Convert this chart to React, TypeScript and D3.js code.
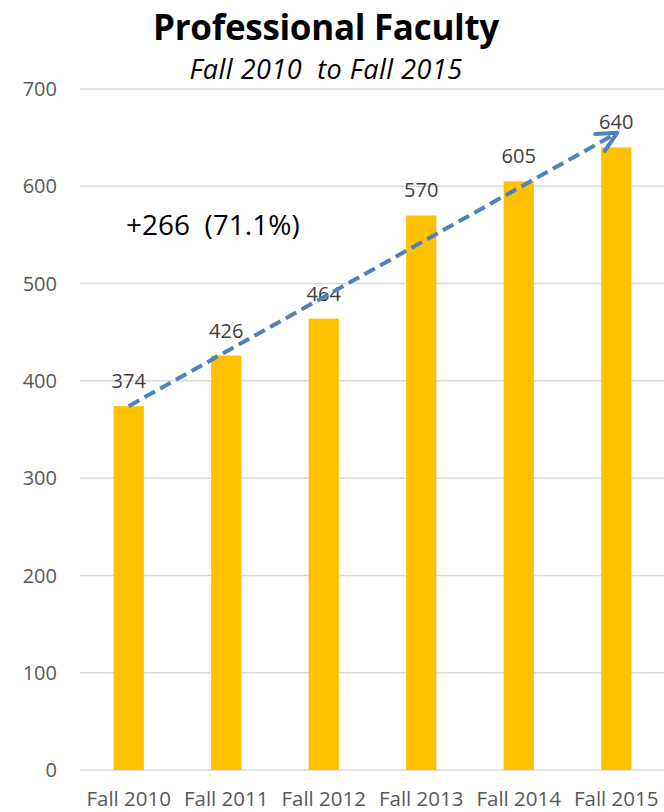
import React from "react";
import * as d3 from "d3";

const categories = ["Fall 2010", "Fall 2011", "Fall 2012", "Fall 2013", "Fall 2014", "Fall 2015"];
const values = [374, 426, 464, 570, 605, 640];
const yTicks = [0, 100, 200, 300, 400, 500, 600, 700];
const arrowFrom = { cat: "Fall 2010", value: 374 };
const arrowTo = { cat: "Fall 2015", value: 655 };
const titleText = "Professional Faculty";
const subtitleText = "Fall 2010  to Fall 2015";
const changeText = "+266  (71.1%)";

export default function App() {
  const W = 664, H = 812;
  const left = 80, right = 665, top = 89, bottom = 770;
  const x = d3.scaleBand<string>().domain(categories).range([left, right]).paddingInner(0.69).paddingOuter(0.345);
  const y = d3.scaleLinear().domain([0, 700]).range([bottom, top]);
  const font = "'Open Sans', sans-serif";
  const cx = (c: string) => (x(c) as number) + x.bandwidth() / 2;
  const x1 = cx(arrowFrom.cat), y1 = y(arrowFrom.value);
  const x2 = cx(arrowTo.cat) + 1, y2 = y(arrowTo.value);
  const ang = Math.atan2(y2 - y1, x2 - x1);
  const hl = 22, ha = 0.46;
  const h1 = [x2 - hl * Math.cos(ang - ha), y2 - hl * Math.sin(ang - ha)];
  const h2 = [x2 - hl * Math.cos(ang + ha), y2 - hl * Math.sin(ang + ha)];
  return (
    <svg width={W} height={H} style={{ position: "absolute", left: 0, top: 0, background: "#fff" }}>
      <text x={326} y={40} textAnchor="middle" fontFamily={font} fontWeight={700} fontSize={35} letterSpacing={-0.3} fill="#000">{titleText}</text>
      <text x={326} y={79} textAnchor="middle" fontFamily={font} fontStyle="italic" fontSize={27} letterSpacing={0.5} fill="#000" style={{ whiteSpace: "pre" }}>{subtitleText}</text>
      {yTicks.map((t) => (
        <g key={t}>
          <line x1={left} x2={right} y1={y(t)} y2={y(t)} stroke="#d9d9d9" strokeWidth={1.5} />
          <text x={57} y={y(t)} dy="0.36em" textAnchor="end" fontFamily={font} fontSize={20} fill="#595959">{t}</text>
        </g>
      ))}
      {categories.map((c, i) => (
        <g key={c}>
          <rect x={x(c)} y={y(values[i])} width={x.bandwidth()} height={bottom - y(values[i])} fill="#FFC000" />
          <text x={cx(c)} y={y(values[i]) - 18} textAnchor="middle" fontFamily={font} fontSize={20} fill="#404040">{values[i]}</text>
          <text x={cx(c)} y={806} textAnchor="middle" fontFamily={font} fontSize={20.5} fill="#595959">{c}</text>
        </g>
      ))}
      <line x1={x1} y1={y1} x2={x2} y2={y2} stroke="#4F81BD" strokeWidth={4} strokeDasharray="12 6" />
      <polyline points={`${h1[0]},${h1[1]} ${x2},${y2} ${h2[0]},${h2[1]}`} fill="none" stroke="#4F81BD" strokeWidth={4} strokeLinecap="round" strokeLinejoin="round" />
      <text x={126} y={235} fontFamily={font} fontSize={28} fill="#000" style={{ whiteSpace: "pre" }}>{changeText}</text>
    </svg>
  );
}
